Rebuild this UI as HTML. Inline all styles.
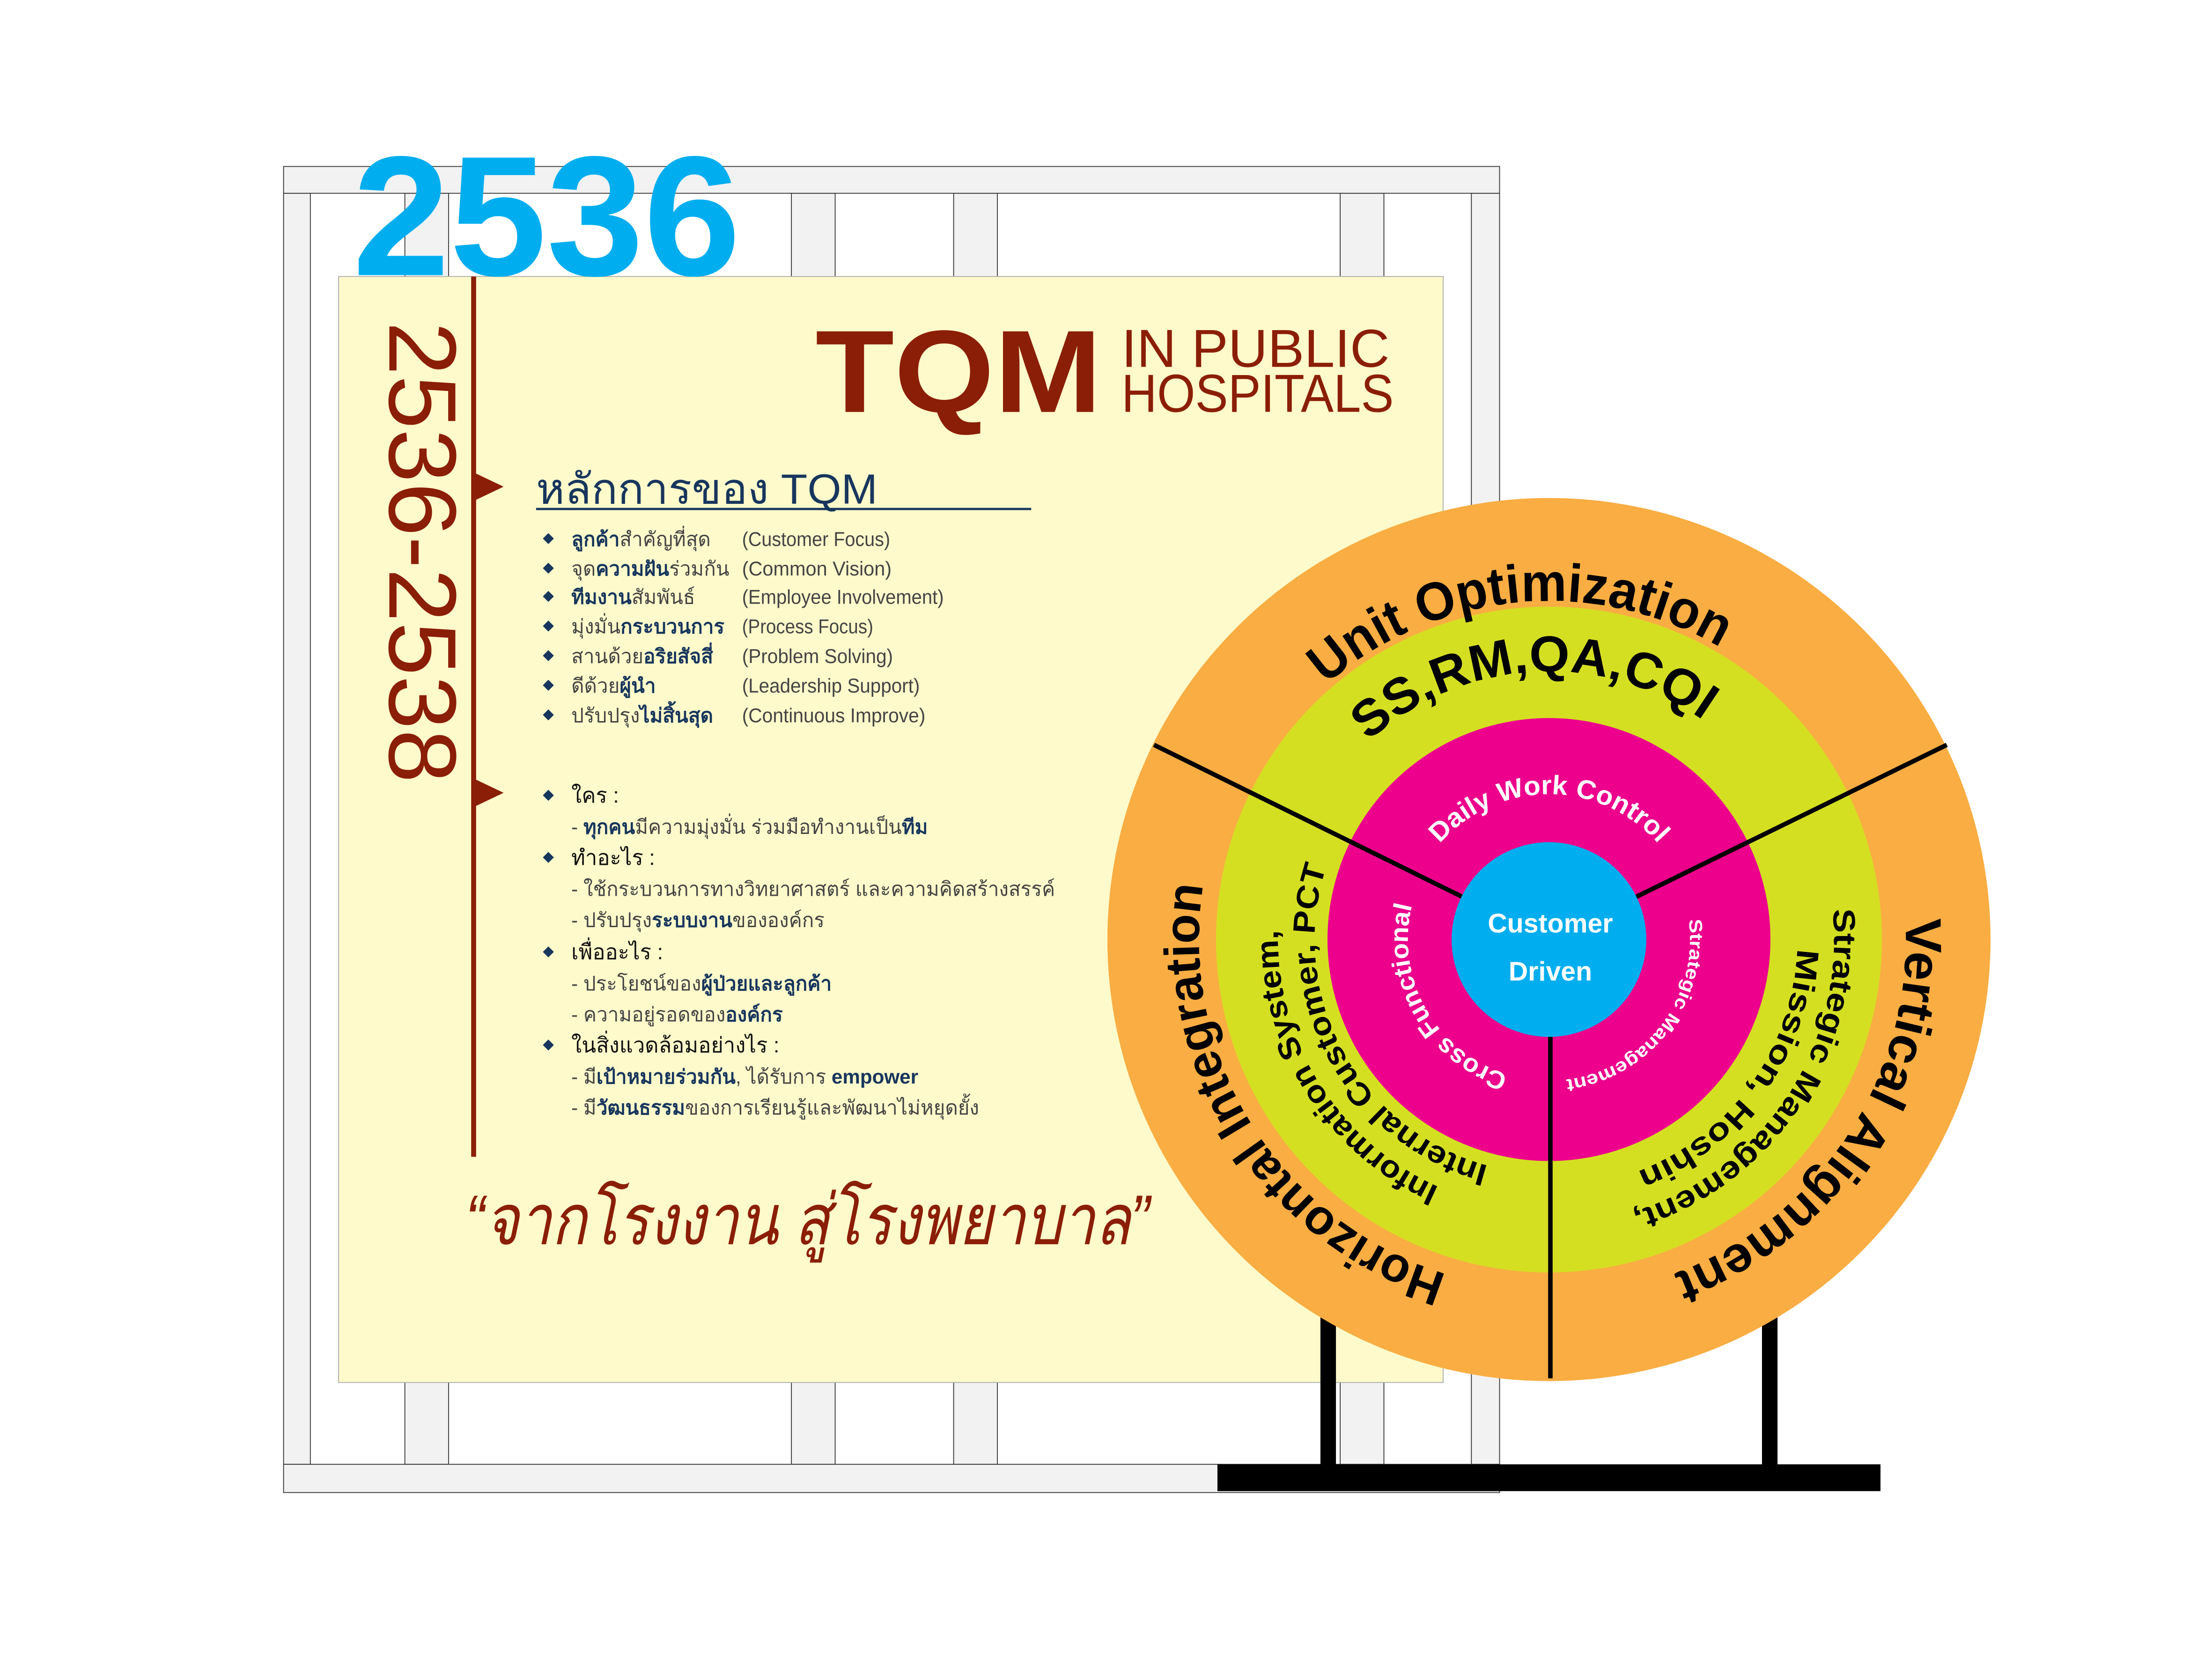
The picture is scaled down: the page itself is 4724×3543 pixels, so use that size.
<!DOCTYPE html>
<html><head><meta charset="utf-8"><style>
html,body{margin:0;padding:0;background:#fff;}
svg{display:block;}
</style></head><body>
<svg width="4724" height="3543" viewBox="0 0 1568 1176" xmlns="http://www.w3.org/2000/svg" font-family="Liberation Sans, DejaVu Sans, sans-serif">
<defs>
<path id="r248" d="M1098,914 A248,248 0 1 1 1098,418 A248,248 0 1 1 1098,914"/>
<path id="r253" d="M1098,919 A253,253 0 1 1 1098,413 A253,253 0 1 1 1098,919"/>
<path id="r240" d="M1098,906 A240,240 0 1 1 1098,426 A240,240 0 1 1 1098,906"/>
<path id="r190" d="M1098,856 A190,190 0 1 1 1098,476 A190,190 0 1 1 1098,856"/>
<path id="r192" d="M1098,858 A192,192 0 1 1 1098,474 A192,192 0 1 1 1098,858"/>
<path id="r166" d="M1098,832 A166,166 0 1 1 1098,500 A166,166 0 1 1 1098,832"/>
<path id="r202" d="M1098,868 A202,202 0 1 1 1098,464 A202,202 0 1 1 1098,868"/>
<path id="r176" d="M1098,842 A176,176 0 1 1 1098,490 A176,176 0 1 1 1098,842"/>
<path id="r103" d="M1098,769 A103,103 0 1 1 1098,563 A103,103 0 1 1 1098,769"/>
<path id="r100" d="M1098,766 A100,100 0 1 1 1098,566 A100,100 0 1 1 1098,766"/>
</defs>

<g fill="#f2f2f3" stroke="#333" stroke-width="0.6">
<rect x="287" y="137" width="31" height="901"/>
<rect x="561" y="137" width="31" height="901"/>
<rect x="676" y="137" width="31" height="901"/>
<rect x="950" y="137" width="31" height="901"/>
<rect x="201" y="137" width="19" height="901"/>
<rect x="1043" y="137" width="20" height="901"/>
<rect x="201" y="118" width="862" height="19"/>
<rect x="201" y="1038" width="862" height="20"/>
</g>

<rect x="240" y="196" width="783" height="784" fill="#fffacb" stroke="#aaa" stroke-width="0.6"/>

<text x="250" y="195" font-size="121" font-weight="bold" fill="#00aeef" textLength="275" lengthAdjust="spacingAndGlyphs">2536</text>

<rect x="334" y="196" width="3.5" height="624" fill="#8b1e06"/>
<polygon points="336,335 357,345 336,355" fill="#8b1e06"/>
<polygon points="336,552 357,562 336,572" fill="#8b1e06"/>
<text transform="translate(276,228) rotate(90)" font-size="68" fill="#8b1e06" textLength="327" lengthAdjust="spacingAndGlyphs">2536-2538</text>

<text x="578" y="292" font-size="83" font-weight="bold" fill="#8b1e06" textLength="203" lengthAdjust="spacingAndGlyphs">TQM</text>
<text x="795" y="260" font-size="38" fill="#8b1e06" textLength="190" lengthAdjust="spacingAndGlyphs">IN PUBLIC</text>
<text x="795" y="292" font-size="38" fill="#8b1e06" textLength="193" lengthAdjust="spacingAndGlyphs">HOSPITALS</text>

<text x="380" y="357" font-size="30" fill="#17365d" textLength="242" lengthAdjust="spacingAndGlyphs">หลักการของ TQM</text>
<rect x="380" y="360" width="351" height="1.6" fill="#17365d"/>

<g font-size="14" fill="#444">
<g fill="#17365d">
<rect x="386" y="379" width="5.5" height="5.5" transform="rotate(45 388.7 381.7)"/>
<rect x="386" y="400" width="5.5" height="5.5" transform="rotate(45 388.7 402.7)"/>
<rect x="386" y="420" width="5.5" height="5.5" transform="rotate(45 388.7 422.7)"/>
<rect x="386" y="441" width="5.5" height="5.5" transform="rotate(45 388.7 443.7)"/>
<rect x="386" y="462" width="5.5" height="5.5" transform="rotate(45 388.7 464.7)"/>
<rect x="386" y="483" width="5.5" height="5.5" transform="rotate(45 388.7 485.7)"/>
<rect x="386" y="504" width="5.5" height="5.5" transform="rotate(45 388.7 506.7)"/>
<rect x="386" y="561" width="5.5" height="5.5" transform="rotate(45 388.7 563.7)"/>
<rect x="386" y="605" width="5.5" height="5.5" transform="rotate(45 388.7 607.7)"/>
<rect x="386" y="672" width="5.5" height="5.5" transform="rotate(45 388.7 674.7)"/>
<rect x="386" y="738" width="5.5" height="5.5" transform="rotate(45 388.7 740.7)"/>
</g>
<text x="405" y="387"><tspan fill="#17365d" font-weight="bold">ลูกค้า</tspan>สำคัญที่สุด</text>
<text x="405" y="408">จุด<tspan fill="#17365d" font-weight="bold">ความฝัน</tspan>ร่วมกัน</text>
<text x="405" y="428"><tspan fill="#17365d" font-weight="bold">ทีมงาน</tspan>สัมพันธ์</text>
<text x="405" y="449">มุ่งมั่น<tspan fill="#17365d" font-weight="bold">กระบวนการ</tspan></text>
<text x="405" y="470">สานด้วย<tspan fill="#17365d" font-weight="bold">อริยสัจสี่</tspan></text>
<text x="405" y="491">ดีด้วย<tspan fill="#17365d" font-weight="bold">ผู้นำ</tspan></text>
<text x="405" y="512">ปรับปรุง<tspan fill="#17365d" font-weight="bold">ไม่สิ้นสุด</tspan></text>
<text x="526" y="387" textLength="105" lengthAdjust="spacingAndGlyphs">(Customer Focus)</text>
<text x="526" y="408" textLength="106" lengthAdjust="spacingAndGlyphs">(Common Vision)</text>
<text x="526" y="428" textLength="143" lengthAdjust="spacingAndGlyphs">(Employee Involvement)</text>
<text x="526" y="449" textLength="93" lengthAdjust="spacingAndGlyphs">(Process Focus)</text>
<text x="526" y="470" textLength="107" lengthAdjust="spacingAndGlyphs">(Problem Solving)</text>
<text x="526" y="491" textLength="126" lengthAdjust="spacingAndGlyphs">(Leadership Support)</text>
<text x="526" y="512" textLength="130" lengthAdjust="spacingAndGlyphs">(Continuous Improve)</text>

<g font-size="15" fill="#111">
<text x="405" y="569">ใคร :</text>
<text x="405" y="613">ทำอะไร :</text>
<text x="405" y="680">เพื่ออะไร :</text>
<text x="405" y="746">ในสิ่งแวดล้อมอย่างไร :</text>
</g>
<text x="405" y="591">- <tspan fill="#17365d" font-weight="bold">ทุกคน</tspan>มีความมุ่งมั่น ร่วมมือทำงานเป็น<tspan fill="#17365d" font-weight="bold">ทีม</tspan></text>
<text x="405" y="635">- ใช้กระบวนการทางวิทยาศาสตร์ และความคิดสร้างสรรค์</text>
<text x="405" y="657">- ปรับปรุง<tspan fill="#17365d" font-weight="bold">ระบบงาน</tspan>ขององค์กร</text>
<text x="405" y="702">- ประโยชน์ของ<tspan fill="#17365d" font-weight="bold">ผู้ป่วยและลูกค้า</tspan></text>
<text x="405" y="724">- ความอยู่รอดของ<tspan fill="#17365d" font-weight="bold">องค์กร</tspan></text>
<text x="405" y="768">- มี<tspan fill="#17365d" font-weight="bold">เป้าหมายร่วมกัน</tspan>, ได้รับการ <tspan fill="#17365d" font-weight="bold">empower</tspan></text>
<text x="405" y="790">- มี<tspan fill="#17365d" font-weight="bold">วัฒนธรรม</tspan>ของการเรียนรู้และพัฒนาไม่หยุดยั้ง</text>
</g>

<text x="330" y="882" font-size="50" font-style="italic" fill="#8b1e06" textLength="485" lengthAdjust="spacingAndGlyphs">“จากโรงงาน สู่โรงพยาบาล”</text>

<rect x="936" y="930" width="11" height="110" fill="#000"/>
<rect x="1249" y="930" width="11" height="110" fill="#000"/>

<circle cx="1098" cy="666" r="313" fill="#f9ad42"/>
<circle cx="1098" cy="666" r="236" fill="#d5df22"/>
<circle cx="1098" cy="666" r="157" fill="#ec008c"/>
<g stroke="#000" stroke-width="3.2">
<line x1="1098" y1="666" x2="818" y2="528"/>
<line x1="1098" y1="666" x2="1380" y2="528"/>
<line x1="1099" y1="666" x2="1099" y2="977"/>
</g>
<circle cx="1098" cy="666" r="69" fill="#00aeef"/>
<text x="1099" y="661" font-size="19" font-weight="bold" fill="#fff" text-anchor="middle">Customer</text>
<text x="1099" y="695" font-size="19" font-weight="bold" fill="#fff" text-anchor="middle">Driven</text>

<g font-weight="bold" fill="#000" text-anchor="middle">
<text font-size="38"><textPath href="#r240" startOffset="48.5%" textLength="300" lengthAdjust="spacingAndGlyphs">Unit Optimization</textPath></text>
<text font-size="36"><textPath href="#r190" startOffset="49%" textLength="257" lengthAdjust="spacingAndGlyphs">SS,RM,QA,CQI</textPath></text>
<text font-size="35"><textPath href="#r248" startOffset="16.1%" textLength="355" lengthAdjust="spacingAndGlyphs">Horizontal Integration</textPath></text>
<text font-size="36"><textPath href="#r253" startOffset="84.2%" textLength="322" lengthAdjust="spacingAndGlyphs">Vertical Alignment</textPath></text>
<text font-size="22"><textPath href="#r192" startOffset="16.1%" textLength="228" lengthAdjust="spacingAndGlyphs">Information System,</textPath></text>
<text font-size="22"><textPath href="#r166" startOffset="17.1%" textLength="270" lengthAdjust="spacingAndGlyphs">Internal Customer, PCT</textPath></text>
<text font-size="22"><textPath href="#r202" startOffset="84.3%" textLength="279" lengthAdjust="spacingAndGlyphs">Strategic Management,</textPath></text>
<text font-size="22"><textPath href="#r176" startOffset="84.9%" textLength="206" lengthAdjust="spacingAndGlyphs">Mission, Hoshin</textPath></text>
</g>
<g font-weight="bold" fill="#fff" text-anchor="middle">
<text font-size="19"><textPath href="#r103" startOffset="50%" textLength="175" lengthAdjust="spacingAndGlyphs">Daily Work Control</textPath></text>
<text font-size="18"><textPath href="#r100" startOffset="16.8%" textLength="152" lengthAdjust="spacingAndGlyphs">Cross Functional</textPath></text>
<text font-size="13"><textPath href="#r100" startOffset="85.4%" textLength="159" lengthAdjust="spacingAndGlyphs">Strategic Management</textPath></text>
</g>

<rect x="863" y="1038" width="470" height="19" fill="#000"/>
</svg>
</body></html>
